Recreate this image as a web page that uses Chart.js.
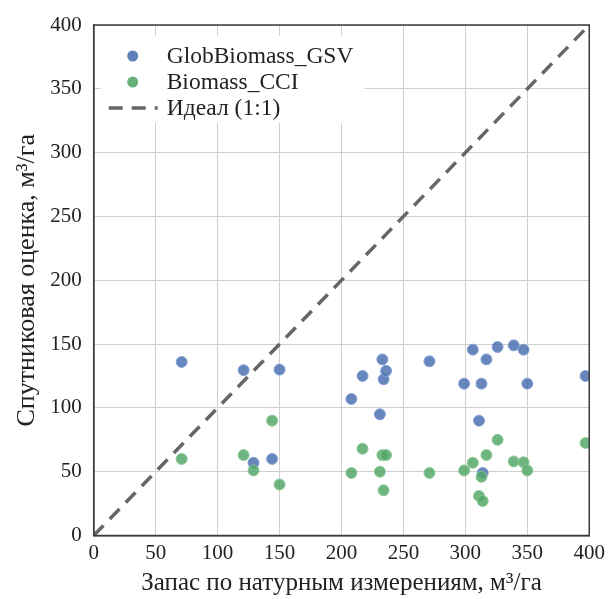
<!DOCTYPE html>
<html>
<head>
<meta charset="utf-8">
<script src="https://cdn.jsdelivr.net/npm/chart.js@4"></script>
<style>
  html, body { margin: 0; padding: 0; background: #fff; }
  #wrap { width: 610px; height: 599px; }
</style>
</head>
<body>
<div id="wrap"><canvas id="chart" width="610" height="599"></canvas></div>
<script>
// field measured stock (x) for each plot
var fieldStock = [71, 121, 129, 144, 150, 208, 217, 231, 233, 234, 236, 271,
                  299, 306, 311, 313, 314, 317, 326, 339, 347, 350, 397];
var globBiomass = [136, 129.5, 57, 60, 130, 107, 125, 95, 138, 122.4, 129, 136.5,
                   119, 145.6, 90, 119, 49, 138, 147.7, 149, 145.6, 119, 125];
var biomassCci = [60, 63, 51, 90, 40, 49, 68, 50, 63, 35.4, 63, 49,
                  51, 57, 31, 46, 27, 63, 75, 58, 57.4, 51, 72.5];
var idealLine = [0, 400];
var axisTicks = [0, 50, 100, 150, 200, 250, 300, 350, 400];

var serif = '"Liberation Serif", "DejaVu Serif", serif';

function toPoints(xs, ys) {
    return xs.map(function (x, i) { return { x: x, y: ys[i] }; });
}

// legend box + frame drawn on top of the plot
var frameLegend = {
    id: 'frameLegend',
    afterDraw: function (chart) {
        var ctx = chart.ctx;
        var a = chart.chartArea;
        ctx.save();
        ctx.strokeStyle = '#3a3a3a';
        ctx.lineWidth = 1.5;
        ctx.strokeRect(a.left, a.top, a.right - a.left, a.bottom - a.top);

        ctx.fillStyle = '#fff';
        ctx.fillRect(a.left + 7, a.top + 11, 264, 87);

        ctx.font = '23.5px ' + serif;
        ctx.textBaseline = 'middle';
        ctx.textAlign = 'left';

        ctx.beginPath();
        ctx.arc(a.left + 39, a.top + 31, 5.5, 0, Math.PI * 2);
        ctx.fillStyle = 'rgba(76,114,176,0.9)';
        ctx.fill();
        ctx.fillStyle = '#222';
        ctx.fillText('GlobBiomass_GSV', a.left + 73, a.top + 32);

        ctx.beginPath();
        ctx.arc(a.left + 39, a.top + 57, 5.5, 0, Math.PI * 2);
        ctx.fillStyle = 'rgba(85,168,104,0.9)';
        ctx.fill();
        ctx.fillStyle = '#222';
        ctx.fillText('Biomass_CCI', a.left + 73, a.top + 58);

        ctx.beginPath();
        ctx.setLineDash([14, 9]);
        ctx.strokeStyle = '#666';
        ctx.lineWidth = 3.5;
        ctx.moveTo(a.left + 15, a.top + 83);
        ctx.lineTo(a.left + 64, a.top + 83);
        ctx.stroke();
        ctx.setLineDash([]);
        ctx.fillStyle = '#222';
        ctx.fillText('Идеал (1:1)', a.left + 73, a.top + 84);
        ctx.restore();
    }
};

var ctx = document.getElementById('chart');
var chart = new Chart(ctx, {
    type: 'scatter',
    data: {
        datasets: [
            {
                label: 'Идеал (1:1)',
                data: toPoints(idealLine, idealLine),
                showLine: true,
                borderColor: '#666',
                borderWidth: 3.5,
                borderDash: [14, 9],
                pointRadius: 0,
                order: 3
            },
            {
                label: 'GlobBiomass_GSV',
                data: toPoints(fieldStock, globBiomass),
                backgroundColor: 'rgba(76,114,176,0.85)',
                borderColor: 'rgba(130,160,215,0.9)',
                borderWidth: 1,
                pointRadius: 5.5,
                order: 2
            },
            {
                label: 'Biomass_CCI',
                data: toPoints(fieldStock, biomassCci),
                backgroundColor: 'rgba(85,168,104,0.85)',
                borderColor: 'rgba(140,200,150,0.9)',
                borderWidth: 1,
                pointRadius: 5.5,
                order: 1
            }
        ]
    },
    options: {
        responsive: false,
        animation: false,
        layout: { padding: { top: 25, right: 16, left: 0, bottom: 0 } },
        plugins: {
            legend: { display: false },
            tooltip: { enabled: false }
        },
        scales: {
            x: {
                type: 'linear',
                min: 0,
                max: 400,
                afterBuildTicks: function (s) {
                    s.ticks = axisTicks.map(function (v) { return { value: v }; });
                },
                afterFit: function (s) { s.height = 63.5; },
                grid: { color: '#cfcfcf', lineWidth: 1, drawTicks: false },
                border: { color: '#3a3a3a', width: 1.5 },
                ticks: {
                    color: '#222',
                    font: { family: serif, size: 21 },
                    padding: 5,
                    maxRotation: 0
                },
                title: {
                    display: true,
                    text: 'Запас по натурным измерениям, м³/га',
                    color: '#222',
                    font: { family: serif, size: 25 },
                    padding: { top: 0, bottom: 1 }
                }
            },
            y: {
                type: 'linear',
                min: 0,
                max: 400,
                afterBuildTicks: function (s) {
                    s.ticks = axisTicks.map(function (v) { return { value: v }; });
                },
                afterFit: function (s) { s.width = 93.7; },
                grid: { color: '#cfcfcf', lineWidth: 1, drawTicks: false },
                border: { color: '#3a3a3a', width: 1.5 },
                ticks: {
                    color: '#222',
                    font: { family: serif, size: 21 },
                    padding: 12
                },
                title: {
                    display: true,
                    text: 'Спутниковая оценка, м³/га',
                    color: '#222',
                    font: { family: serif, size: 26 },
                    padding: { top: 12, bottom: 0 }
                }
            }
        }
    },
    plugins: [frameLegend]
});
</script>
</body>
</html>
